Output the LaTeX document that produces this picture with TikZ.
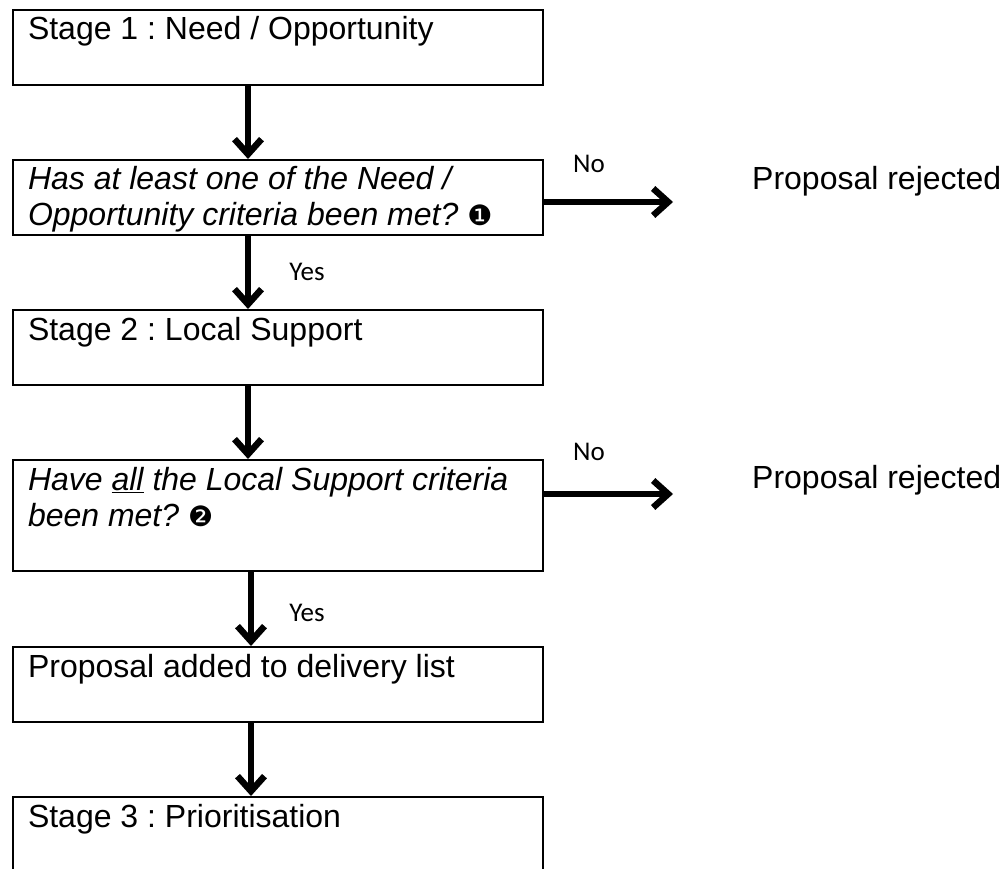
\documentclass[tikz,border=0pt]{standalone}
\usepackage{fontspec}
\setmainfont{Liberation Sans}
\newfontfamily\calibrifont{Carlito}
\newfontfamily\dingfont{DejaVu Sans}
\usetikzlibrary{arrows.meta}
\tikzset{
  stagebox/.style={draw, line width=2pt, anchor=north west, inner xsep=15pt, inner ysep=0pt,
    text width=500pt, align=flush left, text height=30pt, text depth=45pt,
    font=\fontsize{32pt}{36pt}\selectfont\frenchspacing},
  arr/.style={line width=5.5pt, -{Straight Barb[length=15pt,width=27pt,line width=6.5pt]}},
  lbl/.style={font=\calibrifont\fontsize{27pt}{30pt}\selectfont, inner sep=0pt},
  rej/.style={font=\fontsize{32pt}{36pt}\selectfont, anchor=base west, inner sep=0pt}
}
\newcommand{\numA}{{\dingfont\fontsize{28pt}{28pt}\selectfont ❶}}
\newcommand{\numB}{{\dingfont\fontsize{28pt}{28pt}\selectfont ❷}}
\begin{document}
\begin{tikzpicture}[x=1pt,y=-1pt]
\useasboundingbox (0,0) rectangle (1007,869);
\node[stagebox] (b1) at (12,9) {Stage 1 : Need / Opportunity};
\node[stagebox] (b2) at (12,159) {\itshape Has at least one of the Need /\\ Opportunity criteria been met? \numA};
\node[stagebox] (b3) at (12,309) {Stage 2 : Local Support};
\node[stagebox, text depth=81pt] (b4) at (12,459) {\itshape Have \underline{all} the Local Support criteria\\ been met? \numB};
\node[stagebox] (b5) at (12,646) {Proposal added to delivery list};
\node[stagebox] (b6) at (12,796) {Stage 3 : Prioritisation};

\node[rej] (r1) at (752,190) {Proposal rejected};
\node[rej] (r2) at (752,488) {Proposal rejected};
\coordinate (n1) at (673,202);
\coordinate (n2) at (673,494);

\node[lbl] (no1) at (589,164) {No};
\node[lbl] (no2) at (589,452) {No};
\node[lbl] (yes1) at (307,272) {Yes};
\node[lbl] (yes2) at (307,613) {Yes};

\draw[arr] ([xshift=-30pt]b1.south) -- ([xshift=-30pt]b2.north);
\draw[arr] ([xshift=-30pt]b2.south) -- ([xshift=-30pt]b3.north);
\draw[arr] ([xshift=-30pt]b3.south) -- ([xshift=-30pt]b4.north);
\draw[arr] ([xshift=-27pt]b4.south) -- ([xshift=-27pt]b5.north);
\draw[arr] ([xshift=-27pt]b5.south) -- ([xshift=-27pt]b6.north);
\draw[arr] (b2.east |- n1) -- (n1);
\draw[arr] (b4.east |- n2) -- (n2);
\end{tikzpicture}
\end{document}
